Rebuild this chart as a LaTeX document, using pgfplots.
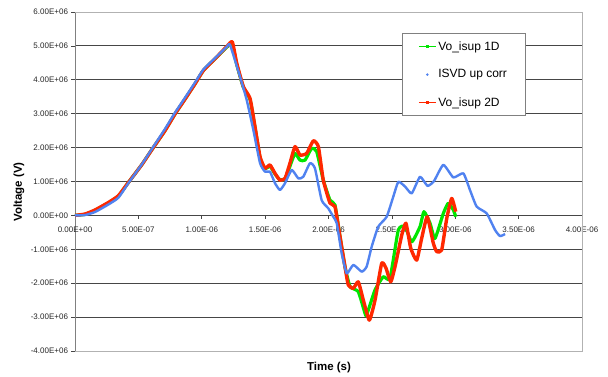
\documentclass[border=0pt]{standalone}
\usepackage{fontspec}
\setmainfont{Liberation Sans}
\usepackage{pgfplots}
\pgfplotsset{compat=1.18}
\definecolor{cgreen}{RGB}{0,230,0}
\definecolor{cred}{RGB}{255,40,0}
\definecolor{cblue}{RGB}{80,130,240}
\definecolor{gridc}{RGB}{70,70,70}
\begin{document}
\begin{tikzpicture}
\path[use as bounding box] (-75pt,-26pt) rectangle (533pt,351pt);
\begin{axis}[
  scale only axis, width=507pt, height=339pt,
  xmin=0, xmax=4, ymin=-4, ymax=6,
  axis x line=middle, axis y line=left,
  hide obscured x ticks=false, hide obscured y ticks=false,
  x axis line style={-, draw=gridc, line width=0.8pt},
  y axis line style={-, draw=gray, line width=0.8pt},
  xtick={0,0.5,1,1.5,2,2.5,3,3.5,4},
  xticklabels={0.00E+00,5.00E-07,1.00E-06,1.50E-06,2.00E-06,2.50E-06,3.00E-06,3.50E-06,4.00E-06},
  ytick={-4,-3,-2,-1,0,1,2,3,4,5,6},
  yticklabels={-4.00E+06,-3.00E+06,-2.00E+06,-1.00E+06,0.00E+00,1.00E+06,2.00E+06,3.00E+06,4.00E+06,5.00E+06,6.00E+06},
  tick align=outside, major tick length=3.5pt,
  tick style={draw=gridc, line width=0.7pt},
  ymajorgrids, major grid style={draw=gridc, line width=0.9pt},
  ticklabel style={font=\fontsize{8}{9}\selectfont, text=black!85},
  xticklabel style={anchor=north, yshift=-4pt},
  yticklabel style={anchor=east},
  legend style={at={(rel axis cs:0.645,0.938)}, anchor=north west, draw=gray, line width=0.8pt,
    fill=white, font=\fontsize{12}{14}\selectfont, row sep=14pt, inner xsep=16pt, inner ysep=6pt},
  legend cell align=left,
  clip=false,
]
\addplot[cgreen, line width=3.2pt, line join=round, smooth, tension=0.3, forget plot] coordinates {
(0,0) (0.079,0.03) (0.158,0.15) (0.263,0.37) (0.342,0.57) (0.421,0.97) (0.526,1.49) (0.605,1.93)
(0.710,2.50) (0.789,2.99) (0.868,3.43) (0.947,3.88) (1.012,4.27) (1.105,4.62) (1.197,4.96) (1.235,5.05)
(1.276,4.45) (1.328,3.78) (1.381,3.42) (1.420,2.60) (1.460,1.70) (1.499,1.38) (1.538,1.45) (1.578,1.22)
(1.617,1.05) (1.657,1.08) (1.696,1.45) (1.736,1.83) (1.775,1.63) (1.815,1.63) (1.867,1.98) (1.907,1.88)
(1.959,1.04) (2.012,0.45) (2.051,0.31) (2.091,-0.63) (2.130,-1.51) (2.170,-2.10) (2.235,-2.25) (2.288,-2.89)
(2.301,-2.94) (2.367,-2.20) (2.432,-1.81) (2.485,-1.86) (2.551,-0.43) (2.604,-0.33) (2.657,-0.78) (2.722,-0.33)
(2.753,0.11) (2.801,-0.23) (2.840,-0.68) (2.906,0.06) (2.945,0.36) (2.985,0.16) (3.004,-0.04)
};
\addplot[cred, line width=3.4pt, line join=round, smooth, tension=0.3, forget plot] coordinates {
(0,0) (0.079,0.04) (0.158,0.16) (0.263,0.38) (0.342,0.58) (0.421,0.97) (0.526,1.49) (0.605,1.93)
(0.710,2.50) (0.789,2.99) (0.868,3.43) (0.947,3.88) (1.012,4.27) (1.105,4.62) (1.197,4.98) (1.241,5.12)
(1.276,4.49) (1.328,3.80) (1.381,3.45) (1.420,2.62) (1.460,1.73) (1.499,1.39) (1.538,1.49) (1.578,1.24)
(1.617,1.04) (1.657,1.09) (1.696,1.54) (1.736,2.03) (1.775,1.78) (1.828,1.83) (1.880,2.20) (1.920,2.03)
(1.959,1.04) (2.012,0.36) (2.051,0.26) (2.091,-0.63) (2.130,-1.51) (2.156,-2.05) (2.196,-2.15) (2.235,-1.96)
(2.275,-2.50) (2.322,-3.09) (2.367,-2.50) (2.420,-1.41) (2.454,-1.56) (2.491,-1.96) (2.525,-1.51) (2.578,-0.58)
(2.611,-0.23) (2.649,-0.97) (2.696,-1.32) (2.735,-0.68) (2.779,-0.04) (2.827,-0.82) (2.854,-1.07) (2.893,-1.02)
(2.933,-0.09) (2.972,0.50) (3.004,0.11)
};
\addplot[cblue, line width=2.4pt, line join=round, smooth, tension=0.3, forget plot] coordinates {
(0,0) (0.079,0.01) (0.158,0.10) (0.263,0.32) (0.342,0.52) (0.421,0.95) (0.526,1.50) (0.605,1.95)
(0.710,2.55) (0.789,3.03) (0.868,3.47) (0.947,3.92) (1.012,4.30) (1.105,4.64) (1.197,4.97) (1.223,5.03)
(1.302,4.09) (1.355,3.40) (1.407,2.52) (1.460,1.54) (1.499,1.29) (1.538,1.29) (1.578,0.95) (1.617,0.75)
(1.657,0.95) (1.710,1.34) (1.762,1.09) (1.801,1.14) (1.854,1.54) (1.893,1.39) (1.946,0.45) (1.998,0.21)
(2.038,-0.04) (2.065,-0.23) (2.104,-1.12) (2.144,-1.71) (2.196,-1.46) (2.262,-1.66) (2.301,-1.51) (2.341,-0.92)
(2.393,-0.33) (2.459,-0.04) (2.511,0.55) (2.551,0.99) (2.604,0.85) (2.657,0.65) (2.722,1.14) (2.781,0.87)
(2.832,1.01) (2.906,1.49) (2.985,1.12) (3.064,1.24) (3.116,0.75) (3.169,0.26) (3.248,0.06) (3.314,-0.43)
(3.353,-0.61) (3.393,-0.55)
};
\draw[draw=black!30, line width=0.8pt] (rel axis cs:0,1) -- (rel axis cs:1,1) -- (rel axis cs:1,0) -- (rel axis cs:0,0);
\addlegendimage{line legend, cgreen, line width=0.8pt, mark=square*, mark size=1pt}
\addlegendentry{Vo\_isup 1D}
\addlegendimage{only marks, cblue, mark=*, mark size=0.8pt}
\addlegendentry{ISVD up corr}
\addlegendimage{line legend, cred, line width=0.8pt, mark=square*, mark size=1pt}
\addlegendentry{Vo\_isup 2D}
\end{axis}
\node[font=\fontsize{11.5}{13}\selectfont\bfseries] at (254pt,-17pt) {Time (s)};
\node[font=\fontsize{11.5}{13}\selectfont\bfseries, rotate=90] at (-56pt,159pt) {Voltage (V)};
\end{tikzpicture}
\end{document}
